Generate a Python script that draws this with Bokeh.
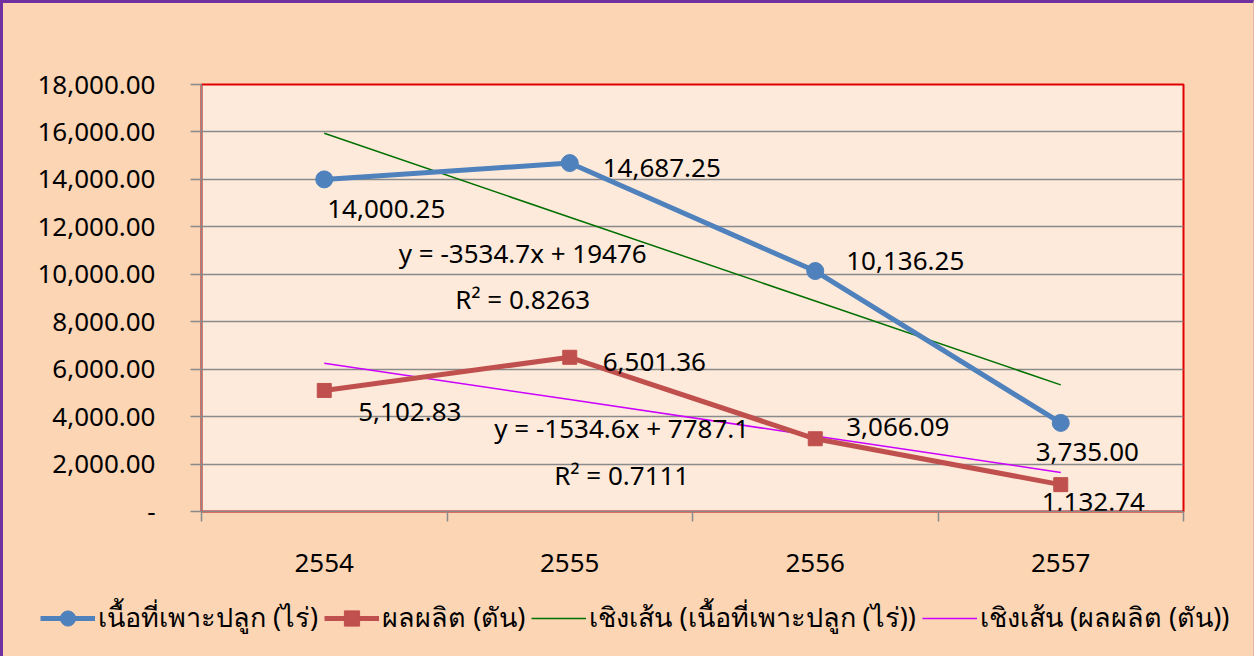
import numpy as np
from bokeh.plotting import figure
from bokeh.layouts import column
from bokeh.models import (Range1d, FixedTicker, NumeralTickFormatter, Legend, LegendItem,
                          ColumnDataSource)
from bokeh.core.properties import value
from bokeh.embed import file_html
from bokeh.resources import INLINE

# ---------------- data ----------------
years = ["2554", "2555", "2556", "2557"]
area = [14000.25, 14687.25, 10136.25, 3735.00]        # เนื้อที่เพาะปลูก (ไร่)
prod = [5102.83, 6501.36, 3066.09, 1132.74]            # ผลผลิต (ตัน)
y_ticks = [0, 2000, 4000, 6000, 8000, 10000, 12000, 14000, 16000, 18000]
series_names = ["เนื้อที่เพาะปลูก (ไร่)", "ผลผลิต (ตัน)"]
trend_names = ["เชิงเส้น (เนื้อที่เพาะปลูก (ไร่))", "เชิงเส้น (ผลผลิต (ตัน))"]
eq_area = ["y = -3534.7x + 19476", "R² = 0.8263"]
eq_prod = ["y = -1534.6x + 7787.1", "R² = 0.7111"]

# category positions (centres of category slots) and slot boundaries
n = len(years)
xs = [i + 0.5 for i in range(n)]
bounds = list(range(n + 1))

# linear trendlines (Excel style, x = 1..n)
idx = np.arange(1, n + 1)
a_s, a_i = np.polyfit(idx, area, 1)
p_s, p_i = np.polyfit(idx, prod, 1)
area_trend = list(a_s * idx + a_i)
prod_trend = list(p_s * idx + p_i)

FONT_NAME = "Noto Sans"
FONT = value(FONT_NAME)
FS = "26px"
BLUE = "#4F81BD"
RED = "#C0504D"
GREEN = "#007000"
MAGENTA = "#CC00FF"
GRID = "#8A8A8A"
OUTER = "#FCD5B5"

W = 1250
p = figure(width=W, height=595,
           x_range=Range1d(0, n), y_range=Range1d(0, y_ticks[-1]),
           output_backend="svg", toolbar_location=None,
           min_border_left=198, min_border_right=70,
           min_border_top=81, min_border_bottom=87)
p.border_fill_color = OUTER
p.background_fill_color = "#FDEADA"
p.outline_line_color = "#E00000"
p.outline_line_width = 2
p.xgrid.grid_line_color = None

# y axis
p.yaxis.ticker = FixedTicker(ticks=y_ticks)
p.yaxis.formatter = NumeralTickFormatter(format="0,0.00")
p.yaxis.major_label_overrides = {0: "-"}
p.yaxis.major_label_text_font = FONT_NAME
p.yaxis.major_label_text_font_size = FS
p.yaxis.major_label_text_color = "black"
p.yaxis.major_label_standoff = 35
p.yaxis.major_tick_out = 11
p.yaxis.major_tick_in = 0
p.yaxis.minor_tick_line_color = None
p.yaxis.axis_line_color = GRID
p.yaxis.major_tick_line_color = GRID
p.yaxis.major_tick_line_width = 1.5
p.yaxis.axis_line_width = 1.5
p.ygrid.grid_line_color = GRID
p.ygrid.grid_line_width = 1.5

# x axis: labels at slot centres, tick marks at slot boundaries
p.xaxis.ticker = FixedTicker(ticks=xs, minor_ticks=bounds)
p.xaxis.major_label_overrides = {x: y for x, y in zip(xs, years)}
p.xaxis.major_tick_line_color = None
p.xaxis.major_tick_out = 10
p.xaxis.major_tick_in = 0
p.xaxis.minor_tick_out = 10
p.xaxis.minor_tick_in = 0
p.xaxis.minor_tick_line_color = GRID
p.xaxis.minor_tick_line_width = 1.5
p.xaxis.axis_line_color = GRID
p.xaxis.axis_line_width = 1.5
p.xaxis.major_label_standoff = 32
p.xaxis.major_label_text_font = FONT_NAME
p.xaxis.major_label_text_font_size = FS
p.xaxis.major_label_text_color = "black"

# trendlines
t1 = p.line(xs, area_trend, line_color=GREEN, line_width=1.5)
t2 = p.line(xs, prod_trend, line_color=MAGENTA, line_width=1.5)

# series
l1 = p.line(xs, area, line_color=BLUE, line_width=5)
c1 = p.scatter(xs, area, marker="circle", size=17, fill_color=BLUE, line_color=BLUE)
l2 = p.line(xs, prod, line_color=RED, line_width=5)
s2 = p.scatter(xs, prod, marker="square", size=14, fill_color=RED, line_color=RED)

# data labels
src_a = ColumnDataSource(dict(x=xs, y=area, t=[f"{v:,.2f}" for v in area],
                              dx=[3, 33, 31, -25], dy=[30, 5, -10, 29]))
src_p = ColumnDataSource(dict(x=xs, y=prod, t=[f"{v:,.2f}" for v in prod],
                              dx=[34, 33, 31, -19], dy=[22, 5, -12, 17]))
for src in (src_a, src_p):
    p.text(x="x", y="y", text="t", x_offset="dx", y_offset="dy", source=src,
           text_font=FONT, text_font_size=FS, text_color="black",
           text_align="left", text_baseline="middle")

# trendline equations (anchored to the trendline at the 2nd category)
src_eq = ColumnDataSource(dict(
    x=[xs[1]] * 4,
    y=[area_trend[1], area_trend[1], prod_trend[1], prod_trend[1]],
    t=eq_area + eq_prod,
    dx=[-47, -47, 52, 52], dy=[36, 82, 28, 75]))
p.text(x="x", y="y", text="t", x_offset="dx", y_offset="dy", source=src_eq,
       text_font=FONT, text_font_size=FS, text_color="black",
       text_align="center", text_baseline="middle")

# ---------------- legend strip (separate figure, key glyphs only) ----------------
q = figure(width=W, height=58, x_range=Range1d(0, 1), y_range=Range1d(0, 1),
           output_backend="svg", toolbar_location=None,
           x_axis_location=None, y_axis_location=None,
           min_border_left=0, min_border_right=0, min_border_top=0, min_border_bottom=0)
q.frame_align = False
q.border_fill_color = OUTER
q.background_fill_color = OUTER
q.outline_line_color = None
q.grid.grid_line_color = None
nan = [float("nan")]
kl1 = q.line(nan, nan, line_color=BLUE, line_width=5)
kc1 = q.scatter(nan, nan, marker="circle", size=17, fill_color=BLUE, line_color=BLUE)
kl2 = q.line(nan, nan, line_color=RED, line_width=5)
ks2 = q.scatter(nan, nan, marker="square", size=14, fill_color=RED, line_color=RED)
kt1 = q.line(nan, nan, line_color=GREEN, line_width=1.5)
kt2 = q.line(nan, nan, line_color=MAGENTA, line_width=1.5)
legend = Legend(items=[LegendItem(label=series_names[0], renderers=[kl1, kc1]),
                       LegendItem(label=series_names[1], renderers=[kl2, ks2]),
                       LegendItem(label=trend_names[0], renderers=[kt1]),
                       LegendItem(label=trend_names[1], renderers=[kt2])],
                orientation="horizontal", location=(37, 17),
                glyph_width=55, glyph_height=38, label_height=38,
                label_standoff=3, spacing=6, padding=0, margin=0,
                border_line_color=None, background_fill_alpha=0,
                label_text_font=FONT_NAME, label_text_font_size="27px",
                label_text_color="black")
q.add_layout(legend, "center")

page = column(p, q, spacing=0,
              styles={"border-left": "3px solid #7030A0", "border-top": "3px solid #7030A0",
                      "border-right": "1px solid #E8B4A8", "background-color": OUTER})

open("out.html", "w").write(file_html(page, INLINE))
